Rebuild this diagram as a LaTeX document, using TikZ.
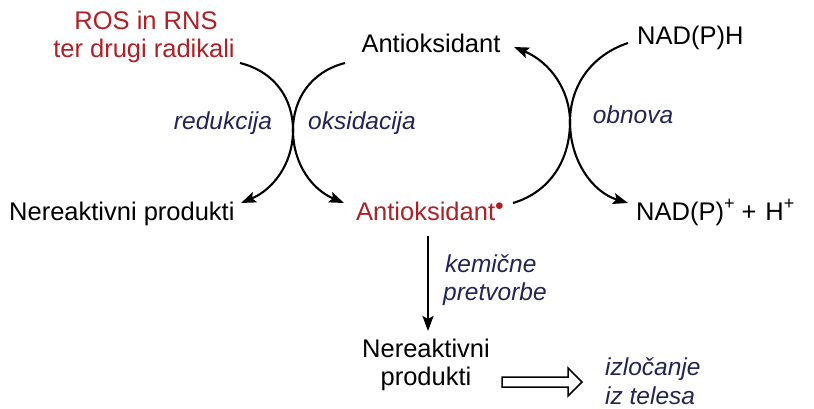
\documentclass[tikz,border=0pt]{standalone}
\usepackage{fontspec}
\setmainfont{Liberation Sans}
\usetikzlibrary{arrows.meta,calc}
\definecolor{rosred}{RGB}{172,32,38}
\definecolor{navy}{RGB}{35,35,85}
\newcommand{\supplus}{\raisebox{0.42em}{\fontsize{18}{18}\selectfont +}}
\begin{document}
\begin{tikzpicture}[x=1pt,y=-1pt,
  lbl/.style={font=\fontsize{25.5}{30}\selectfont, inner sep=0pt, anchor=base},
  ital/.style={font=\fontsize{24.5}{29}\selectfont\itshape, text=navy, inner sep=0pt, anchor=base},
  arr/.style={line width=2.1pt, -{Stealth[length=15pt,width=11pt,inset=3pt]}},
  hollow/.style={line width=1.5pt, line join=miter},
]
\useasboundingbox (0,0) rectangle (814,409);
% texts
\node[lbl, text=rosred] (ros1) at (146,30) {ROS in RNS};
\node[lbl, text=rosred] (ros2) at (144,58) {ter drugi radikali};
\node[lbl] (ant) at (431,53) {Antioksidant};
\node[lbl, anchor=base west] (nadh) at (637,45) {NAD(P)H};
\node[lbl, anchor=base west] (ner1) at (9,220) {Nereaktivni produkti};
\node[lbl, anchor=base west, text=rosred] (antr) at (356,220) {Antioksidant$^{\bullet}$};
\node[lbl, anchor=base west] (nadp) at (636,220) {NAD(P)\supplus\hspace{7pt}+\hspace{9pt}H\supplus};
\node[ital] (red) at (223,130) {redukcija};
\node[ital] (oks) at (362,130) {oksidacija};
\node[ital] (obn) at (633,124) {obnova};
\node[ital, anchor=base west] (kem1) at (445,272) {kemične};
\node[ital, anchor=base west] (kem2) at (443,300) {pretvorbe};
\node[lbl] (ner2a) at (426,357) {Nereaktivni};
\node[lbl] (ner2b) at (426,385) {produkti};
\node[ital, anchor=base west] (izl1) at (605,375) {izločanje};
\node[ital, anchor=base west] (izl2) at (605,404) {iz telesa};
% connector points
\coordinate (xl) at (293,130);
\coordinate (xr) at (570,122);
\coordinate (s1) at (240,63);
\coordinate (e1) at (241,203);
\coordinate (s2) at (345,63);
\coordinate (e2) at (344,203);
\coordinate (s3) at (513,203);
\coordinate (e3) at (514,47);
\coordinate (s4) at (628,43);
\coordinate (e4) at (628,203);
\coordinate (v1) at (428,236);
\coordinate (v2) at (428,331);
\coordinate (ha) at (502,382);
\coordinate (hb) at (582,382);
% curved arrows
\draw[arr] (s1) .. controls (276,72) and (293,100) .. (xl) .. controls (293,165) and (272,190) .. (e1);
\draw[arr] (s2) .. controls (310,72) and (293,100) .. (xl) .. controls (293,165) and (313,190) .. (e2);
\draw[arr] (s3) .. controls (550,192) and (570,160) .. (xr) .. controls (570,90) and (550,62) .. (e3);
\draw[arr] (s4) .. controls (592,55) and (570,85) .. (xr) .. controls (570,160) and (592,192) .. (e4);
% vertical arrow
\draw[arr] (v1) -- (v2);
% hollow arrow
\draw[hollow] ($(ha)+(0,-5)$) -- ($(hb)+(-14,-5)$) -- ($(hb)+(-14,-14)$) -- (hb)
  -- ($(hb)+(-14,14)$) -- ($(hb)+(-14,5)$) -- ($(ha)+(0,5)$) -- cycle;
\end{tikzpicture}
\end{document}
